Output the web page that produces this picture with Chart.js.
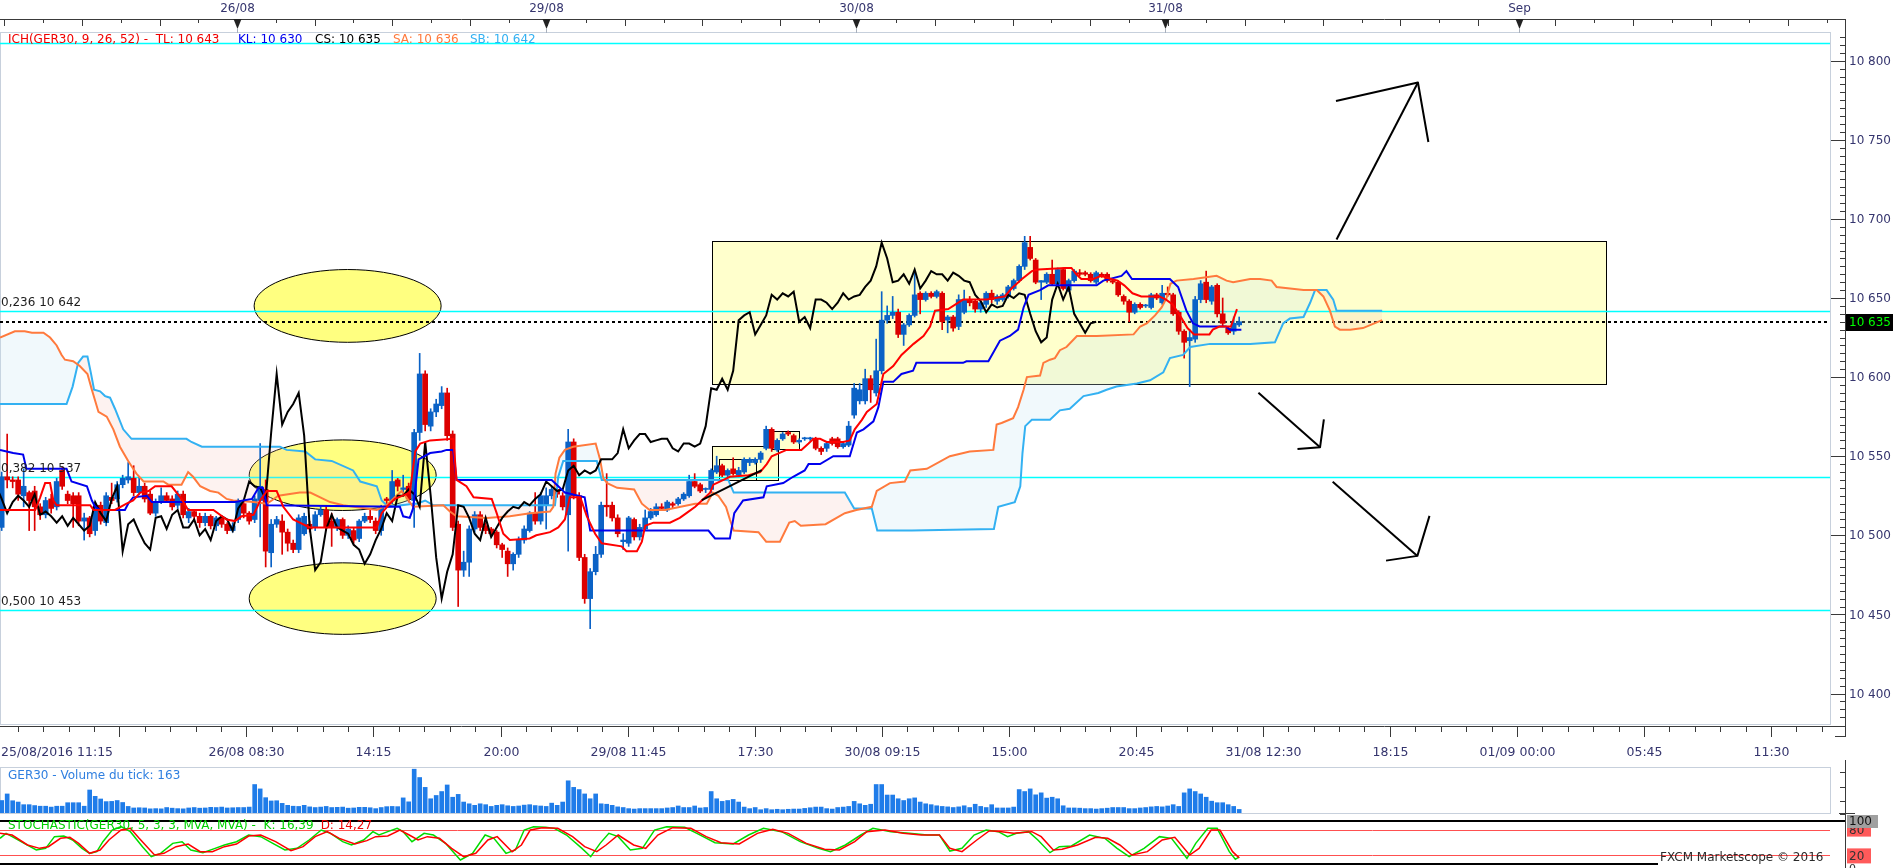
<!DOCTYPE html>
<html lang="fr">
<head>
<meta charset="UTF-8" />
<title>GER30 - Ichimoku 15 min</title>
<script src="https://cdn.jsdelivr.net/npm/chart.js@4.4.1/dist/chart.umd.min.js"></script>
<style>
  html, body { margin: 0; padding: 0; background: #fff; overflow: hidden; }
  #page { position: relative; width: 1903px; height: 868px; }
  #page canvas { position: absolute; left: 0; }
</style>
</head>
<body>
<div id="page">
  <canvas id="prix" width="1903" height="770" style="top:0px"></canvas>
  <canvas id="volume" width="1903" height="56" style="top:760px"></canvas>
  <canvas id="stoch" width="1903" height="53" style="top:815px"></canvas>
</div>
<script>
// bougies 15 min, indice 0 = 25/08/2016 11:15
const opens = [
  10505,10537,10535,10535,10525,10527,10528,10518,10513,10523,
  10518,10541,10526,10525,10525,10509,10511,10503,10519,10508,
  10524,10523,10532,10535,10536,10527,10531,10526,10514,10521,
  10525,10523,10519,10526,10511,10515,10512,10508,10512,10506,
  10511,10507,10503,10510,10520,10514,10510,10522,10529,10489,
  10507,10509,10502,10495,10491,10501,10507,10505,10513,10516,
  10509,10505,10510,10500,10503,10498,10509,10512,10509,10503,
  10523,10522,10535,10529,10531,10522,10565,10602,10569,10578,
  10582,10590,10564,10507,10478,10483,10504,10513,10506,10504,
  10502,10494,10490,10482,10488,10497,10503,10514,10509,10519,
  10525,10529,10525,10513,10559,10525,10486,10460,10477,10488,
  10519,10519,10511,10496,10495,10510,10499,10504,10511,10513,
  10518,10516,10520,10520,10523,10525,10534,10532,10529,10529,
  10540,10544,10538,10542,10538,10540,10546,10546,10548,10555,
  10567,10554,10561,10565,10563,10559,10561,10561,10561,10555,
  10555,10561,10561,10556,10557,10576,10585,10585,10599,10590,
  10604,10636,10639,10641,10627,10633,10639,10653,10649,10653,
  10651,10653,10636,10638,10632,10641,10649,10648,10643,10646,
  10653,10648,10649,10651,10656,10661,10670,10682,10674,10660,
  10660,10665,10659,10668,10655,10661,10666,10666,10665,10660,
  10665,10665,10661,10660,10651,10648,10641,10646,10645,10644,
  10652,10647,10653,10652,10641,10629,10623,10624,10649,10660,
  10648,10658,10640,10631,10629,10633
];
const highs = [
  10540,10564,10537,10537,10542,10528,10531,10520,10524,10526,
  10536,10543,10528,10527,10527,10514,10512,10520,10521,10527,
  10533,10534,10538,10546,10544,10537,10533,10528,10523,10530,
  10527,10525,10528,10528,10517,10516,10514,10514,10513,10512,
  10512,10508,10508,10523,10521,10515,10525,10558,10535,10510,
  10512,10513,10504,10497,10513,10514,10509,10515,10518,10518,
  10514,10511,10511,10506,10505,10510,10514,10516,10511,10519,
  10524,10541,10536,10538,10533,10567,10615,10604,10580,10586,
  10594,10593,10566,10509,10490,10506,10515,10515,10508,10505,
  10503,10495,10492,10489,10499,10506,10515,10527,10527,10530,
  10531,10530,10527,10567,10561,10527,10488,10479,10493,10521,
  10539,10521,10513,10501,10512,10511,10507,10516,10517,10520,
  10520,10522,10521,10524,10527,10538,10539,10533,10530,10542,
  10550,10545,10542,10549,10543,10549,10549,10549,10553,10569,
  10568,10561,10565,10566,10564,10561,10562,10562,10562,10556,
  10559,10562,10562,10559,10572,10596,10596,10605,10601,10624,
  10654,10645,10651,10643,10634,10640,10666,10654,10654,10654,
  10655,10654,10639,10639,10652,10655,10651,10649,10648,10654,
  10655,10652,10653,10658,10662,10671,10689,10689,10675,10661,
  10666,10674,10669,10669,10662,10668,10668,10667,10666,10667,
  10666,10666,10662,10661,10652,10649,10647,10647,10646,10653,
  10653,10658,10657,10653,10642,10630,10630,10651,10661,10667,
  10658,10659,10650,10632,10638,10638
];
const lows = [
  10503,10530,10530,10522,10518,10503,10503,10510,10511,10514,
  10516,10529,10520,10505,10506,10497,10499,10500,10507,10506,
  10520,10521,10530,10533,10525,10526,10521,10513,10512,10520,
  10521,10516,10517,10511,10508,10509,10505,10506,10504,10503,
  10505,10501,10502,10508,10511,10507,10508,10499,10480,10480,
  10505,10488,10490,10489,10489,10500,10502,10503,10512,10503,
  10493,10503,10498,10498,10495,10496,10508,10508,10501,10500,
  10520,10520,10528,10526,10521,10505,10560,10566,10566,10575,
  10580,10560,10503,10455,10474,10474,10502,10503,10501,10499,
  10492,10486,10474,10478,10486,10495,10502,10507,10507,10504,
  10523,10524,10516,10490,10523,10484,10457,10441,10475,10486,
  10512,10509,10499,10491,10493,10497,10497,10503,10510,10512,
  10516,10515,10517,10519,10522,10524,10530,10527,10527,10527,
  10539,10537,10537,10538,10537,10539,10544,10545,10546,10554,
  10553,10553,10560,10563,10558,10558,10560,10560,10554,10551,
  10553,10557,10555,10555,10556,10574,10583,10583,10584,10588,
  10602,10634,10637,10625,10620,10632,10638,10640,10648,10650,
  10650,10630,10628,10629,10630,10640,10645,10641,10641,10644,
  10647,10646,10648,10650,10655,10660,10668,10674,10659,10649,
  10659,10658,10658,10655,10654,10660,10664,10664,10660,10659,
  10663,10660,10659,10651,10646,10635,10640,10643,10644,10643,
  10649,10646,10651,10639,10627,10612,10594,10622,10647,10647,
  10646,10638,10632,10627,10627,10632
];
const closes = [
  10537,10535,10534,10526,10531,10522,10518,10513,10522,10517,
  10534,10531,10522,10520,10509,10511,10501,10518,10509,10525,
  10522,10532,10536,10537,10527,10531,10523,10514,10521,10525,
  10522,10518,10526,10513,10515,10512,10508,10512,10506,10511,
  10507,10503,10506,10521,10514,10509,10523,10531,10490,10507,
  10510,10502,10495,10491,10511,10512,10504,10513,10516,10505,
  10505,10510,10500,10504,10497,10509,10512,10510,10503,10517,
  10522,10534,10531,10530,10523,10565,10602,10570,10578,10583,
  10590,10563,10505,10478,10483,10504,10513,10505,10503,10501,
  10494,10491,10482,10488,10497,10504,10514,10509,10525,10525,
  10529,10526,10518,10559,10525,10486,10460,10477,10488,10519,
  10518,10511,10501,10497,10511,10499,10505,10511,10515,10518,
  10517,10521,10519,10523,10526,10534,10531,10528,10529,10541,
  10544,10538,10541,10539,10541,10548,10548,10548,10552,10567,
  10555,10560,10564,10564,10559,10560,10561,10561,10555,10553,
  10558,10558,10556,10558,10569,10593,10592,10599,10592,10604,
  10636,10639,10641,10627,10633,10639,10652,10649,10653,10651,
  10654,10635,10638,10631,10649,10649,10647,10643,10647,10653,
  10649,10651,10652,10657,10661,10670,10685,10675,10660,10661,
  10665,10659,10668,10656,10661,10667,10665,10665,10661,10666,
  10664,10661,10660,10652,10648,10641,10646,10644,10645,10652,
  10650,10653,10652,10640,10629,10622,10625,10649,10659,10649,
  10657,10640,10634,10628,10634,10635
];
const volumes = [
  570,870,560,500,380,380,340,310,310,270,
  310,310,470,470,470,310,1050,760,640,520,
  530,570,480,300,230,240,230,190,200,190,
  250,220,200,190,230,250,220,230,260,250,
  270,230,240,250,250,270,1300,1100,700,550,
  560,440,350,310,300,350,280,250,270,300,
  250,260,270,220,230,260,260,240,200,250,
  290,300,290,690,510,2000,1620,1170,650,800,
  980,1280,720,850,500,420,350,420,380,300,
  350,380,330,300,320,360,380,340,320,300,
  450,350,500,1470,1170,1070,870,650,870,420,
  400,350,280,250,200,180,200,200,200,200,
  200,230,250,320,250,250,320,230,250,980,
  650,530,570,620,500,270,200,250,150,200,
  150,170,150,170,180,180,210,240,270,270,
  200,180,250,270,300,530,420,350,400,1300,
  1300,820,820,650,570,650,690,500,420,380,
  330,300,280,250,280,330,250,400,300,250,
  380,230,230,230,270,1070,980,1100,830,920,
  680,720,650,330,230,230,220,200,200,180,
  200,220,250,250,250,200,200,230,250,280,
  300,280,320,380,300,920,1100,980,870,720,
  540,470,470,380,300,163
];
// lignes Ichimoku : [indice de barre, prix]
const tenkan = [[-0.3,10516],[6.1,10516],[7,10524],[7.9,10533],[8.8,10533],[9.4,10522],[10,10519],[16.1,10519],[16.7,10516],[20.6,10516],[22.7,10520],[23.9,10522],[25.2,10527],[26.7,10528],[27.9,10531],[30.9,10531],[32.7,10523],[33.9,10516],[38.5,10516],[40.9,10510],[42.4,10509],[43.6,10512],[45.8,10513],[47,10522],[48.2,10528],[50,10528],[51.2,10518],[53,10510],[56,10505],[68.2,10505],[69.1,10514],[70.3,10519],[71.5,10523],[74.2,10527],[75.2,10553],[76.1,10558],[77.9,10560],[82.1,10561],[82.7,10535],[84.5,10531],[85.8,10524],[89.1,10523],[90,10514],[91.2,10501],[92.4,10497],[96,10498],[97.2,10500],[99.7,10502],[101.2,10505],[102.4,10510],[103.3,10524],[105.2,10524],[106.4,10512],[107.9,10501],[109.1,10495],[112.7,10493],[113.6,10490],[115.5,10490],[116.4,10496],[117,10506],[118.5,10508],[121.5,10508],[123.3,10511],[124.5,10514],[126.1,10518],[127.6,10523],[128.8,10527],[129.4,10532],[132.4,10537],[135.8,10538],[137.9,10540],[139.1,10545],[140,10550],[142.7,10554],[145.4,10554],[146.7,10558],[147.6,10561],[148.8,10561],[150,10559],[153,10559],[154.2,10560],[155.1,10567],[156.4,10573],[157.3,10578],[159.1,10583],[160.3,10602],[162.1,10607],[163.6,10614],[165.8,10621],[167.6,10626],[168.8,10632],[169.7,10642],[172.1,10643],[174.8,10649],[179.1,10649],[182.4,10651],[183.6,10656],[185.5,10662],[187.3,10667],[188.5,10668],[193.3,10669],[194.5,10669],[195.4,10665],[196.3,10662],[198.5,10662],[199.9,10664],[201.7,10662],[202.9,10661],[204.1,10658],[205.6,10653],[207.2,10651],[210.5,10651],[211.7,10649],[212.9,10646],[214.4,10638],[215.6,10631],[216.8,10627],[219.6,10627],[220.2,10630],[221.4,10632],[223.5,10632],[224.1,10638],[224.6,10643]];
const kijun = [[-0.3,10554],[2.1,10552],[3.9,10551],[4.5,10542],[11.8,10542],[12.7,10534],[15.5,10531],[16.4,10522],[17,10518],[17.9,10516],[22.4,10516],[23,10520],[23.9,10524],[26.4,10525],[27.3,10521],[42.4,10521],[45.5,10523],[46.7,10530],[47.5,10530],[48.2,10519],[72.4,10518],[73,10512],[74.2,10511],[74.8,10517],[75.8,10548],[77.9,10552],[80,10553],[80.9,10554],[82.1,10554],[82.7,10535],[100,10535],[101.2,10531],[102.4,10527],[106,10524],[107,10503],[128.5,10503],[129.7,10498],[132.4,10498],[133.2,10514],[134.8,10522],[138.5,10524],[139.1,10531],[142.1,10533],[143.9,10537],[146,10541],[146.7,10545],[148.8,10545],[151.2,10550],[154.2,10550],[155.5,10565],[156.7,10567],[158.5,10572],[159.4,10581],[160.3,10597],[162.1,10597],[163.6,10602],[165.7,10604],[166.3,10609],[174.8,10609],[175.4,10610],[179.4,10610],[181.5,10623],[183.3,10626],[184.8,10630],[185.8,10644],[186.7,10652],[188.8,10655],[190.3,10658],[199.1,10658],[200.3,10661],[203.6,10664],[204.5,10667],[205.5,10662],[212.4,10662],[213.9,10657],[215.4,10642],[216.6,10634],[217.8,10632],[222.6,10632],[223.3,10630],[225.4,10630]];
const senkouA = [[-0.3,10625],[2.4,10629],[4.2,10629],[5.5,10628],[7.6,10628],[8.8,10625],[10,10620],[10.9,10614],[11.5,10611],[13,10610],[14.2,10607],[15.6,10602],[16.4,10592],[17.6,10578],[19.1,10575],[20.3,10567],[21.5,10556],[23,10547],[24.5,10539],[25.8,10534],[29.4,10534],[30.3,10532],[32.7,10532],[33.9,10540],[34.8,10537],[36.1,10531],[37.9,10528],[39.4,10527],[40.9,10523],[42.1,10522],[45.8,10521],[48.2,10520],[49.1,10522],[50.3,10525],[54.2,10527],[56.1,10527],[59.7,10521],[62.1,10519],[68.2,10516],[70,10519],[71.5,10524],[72.7,10528],[73.6,10524],[74.8,10518],[80.3,10519],[81.5,10515],[82.7,10512],[88.2,10511],[92.4,10512],[96.1,10514],[99.7,10515],[100.3,10518],[100.7,10539],[101.4,10549],[102.4,10554],[103.9,10556],[108,10558],[108.8,10548],[109.4,10536],[110.1,10533],[111.9,10530],[115,10529],[116.4,10520],[117.8,10516],[120.6,10516],[126.1,10520],[128.2,10520],[129.3,10527],[130.3,10525],[131.7,10518],[132.4,10510],[133.1,10503],[137.6,10502],[139,10496],[141.5,10496],[143.2,10508],[144.2,10509],[145.3,10506],[149.8,10507],[153.3,10514],[155.4,10516],[158.2,10518],[159.1,10528],[161.5,10533],[164.2,10534],[165.2,10541],[168.2,10542],[172.4,10550],[176,10553],[180.3,10554],[180.9,10570],[181.8,10571],[183.9,10574],[184.8,10581],[185.8,10592],[186.4,10600],[188.8,10601],[189.4,10609],[190.6,10611],[191.5,10612],[192.4,10617],[193.6,10619],[195.5,10626],[199.1,10626],[205.8,10627],[207,10632],[208.2,10634],[209.7,10639],[210.9,10644],[211.8,10650],[212.5,10659],[213.6,10661],[216.7,10662],[220.9,10664],[222.7,10661],[223.9,10660],[227,10662],[228.8,10662],[230.9,10661],[231.8,10657],[236.7,10655],[239.1,10655],[240.3,10651],[241.5,10642],[242.4,10632],[243.3,10630],[245.2,10630],[247.5,10631],[251,10636]];
const senkouB = [[-0.3,10583],[11.8,10583],[12.9,10594],[13.9,10609],[14.8,10613],[15.6,10613],[16.2,10603],[16.8,10592],[17.9,10591],[18.8,10588],[19.7,10587],[20.6,10580],[22.1,10567],[23.6,10561],[33.6,10561],[34.5,10559],[36.4,10556],[50.6,10556],[51.8,10554],[55.2,10553],[57,10548],[60,10547],[63.9,10541],[65.2,10534],[68.2,10531],[69.1,10522],[70.3,10518],[74.9,10520],[75.5,10520],[77,10522],[78.5,10519],[100.6,10519],[101.2,10537],[102.1,10547],[108.2,10547],[109.1,10535],[132.1,10535],[133.1,10527],[153.3,10527],[155,10517],[158.2,10517],[159.2,10503],[165.5,10503],[180.4,10504],[181.2,10518],[184.2,10521],[185.2,10531],[185.6,10552],[186.1,10569],[187.3,10573],[190.6,10573],[192.4,10579],[194.2,10580],[196.7,10588],[199.4,10590],[200.9,10592],[202.7,10594],[206.4,10596],[208.8,10598],[211.2,10603],[212.4,10612],[214.8,10614],[216.1,10619],[219.7,10621],[227,10621],[231.5,10622],[233,10634],[234.2,10637],[236.7,10638],[237.9,10647],[238.8,10655],[240.9,10655],[242.1,10649],[242.7,10642],[245.2,10642],[251,10642]];
// stochastique (5,3,3) : [indice de barre, valeur]
const stochK = [[-0.3,59.7],[0.8,71.3],[1.9,63.6],[4.1,48],[6.3,32.6],[8,36.4],[9.6,63.6],[11.3,65.1],[12.9,55.8],[14.6,36.4],[16,24.8],[17.3,28.7],[18.4,51.9],[20.1,79],[21.7,86.8],[23.4,75.2],[25.6,40.3],[27.2,17],[28.9,24.8],[31.1,48],[32.8,51.9],[34.4,32.6],[36.6,26.4],[38.8,36.4],[40.5,44.2],[42.7,51.9],[44.9,67.4],[47.1,63.6],[49.3,48],[51.5,32.6],[53.7,36.4],[55.9,55.8],[58.1,79],[59.8,71.3],[62,51.9],[63.6,44.2],[65.8,55.8],[67.5,75.2],[68.6,67.4],[70.2,75.2],[71.9,82.9],[73,75.2],[74.6,51.9],[76.8,71.3],[78.5,67.4],[80.7,48],[83.4,9.3],[85.6,24.8],[87.9,67.4],[89.5,59.7],[91.7,24.8],[93.4,32.6],[95,79],[96.7,86.8],[98.9,85.3],[100.5,82.9],[102.7,67.4],[105.5,36.4],[107.1,17],[108.8,48],[110.4,71.3],[112.1,63.6],[114.3,32.6],[116.5,36.4],[118.7,79],[120.9,86.8],[124.2,85.3],[126.4,71.3],[129.7,49.6],[133,46.5],[135.8,67.4],[138.5,82.9],[141.8,75.2],[145.2,51.9],[148.5,36.4],[150.7,28.7],[153.4,44.2],[156.2,67.4],[158.4,82.9],[161.7,75.2],[165,71.3],[168.3,67.4],[170.5,67.4],[172.4,30],[174.6,36.4],[176.8,67.4],[179,79],[181.2,75.2],[182.9,63.6],[184.5,71.3],[186.7,75.2],[188.4,55.8],[190.6,26.4],[192.3,40.3],[194.5,41.9],[197.8,67.4],[200.6,59.7],[202.8,36.4],[205,17],[207.7,36.4],[210.5,63.6],[212.7,59.7],[215.5,13.2],[217.1,48],[219.3,82.9],[221,82.9],[223.2,28.7],[224.3,10.9],[225,16.4]];
const stochD = [[-0.3,71.3],[1.9,67.4],[4.7,44.2],[6.9,36.4],[8.5,40.3],[10.7,59.7],[12.4,62],[14,48],[16,24.8],[17.9,32.6],[19.5,55.8],[21.7,79],[23.4,82.9],[25,59.7],[27.8,20.9],[29.5,24.8],[31.7,40.3],[33.9,46.5],[36.1,28.7],[38.3,28.7],[40.5,40.3],[42.7,46.5],[44.9,65.1],[47.1,67.4],[49.8,51.9],[52.6,31],[54.8,40.3],[57,63.6],[59.2,75.2],[61.4,59.7],[64.2,46.5],[66.4,54.3],[68,63.6],[70.2,65.1],[72.4,79],[74.1,67.4],[75.7,55.8],[77.4,63.6],[79.6,59.7],[81.8,36.4],[84,17],[86.2,24.8],[88.4,55.8],[90.1,63.6],[92.8,28.7],[94.5,44.2],[96.1,79],[98.3,84.5],[101.1,82.9],[103.8,63.6],[106,40.3],[108.2,28.7],[109.9,44.2],[112.1,67.4],[114.9,44.2],[117.1,36.4],[119.3,67.4],[122,84.5],[125.3,82.9],[128.1,63.6],[130.8,49.6],[134.1,46.5],[137.4,71.3],[140.2,80.6],[143,71.3],[146.3,48],[149.6,34.1],[152.3,32.6],[155.1,51.9],[157.3,75.2],[160.6,79],[163.9,71.3],[167.2,67.4],[170.5,67.4],[172.4,36.4],[174.6,28.7],[177.3,55.8],[179.6,77.5],[181.8,75.2],[184,71.3],[187.3,75.2],[189,63.6],[191.2,32.6],[192.8,34.1],[195.6,44.2],[198.9,62],[201.1,59.7],[203.3,44.2],[205.5,20.9],[208.3,28.7],[211,55.8],[213.3,62],[216,20.9],[217.7,36.4],[219.9,79],[221.5,79],[223.8,28.7],[225,14.3]];
const timeLabels = ['25/08/2016 11:15','','26/08 08:30','14:15','20:00','29/08 11:45','17:30','30/08 09:15','15:00','20:45','31/08 12:30','18:15','01/09 00:00','05:45','11:30'];
const timeTicks = [-1.7,21.4,44.5,67.6,90.7,113.8,136.9,160,183.1,206.2,229.3,252.4,275.5,298.6,321.7];
const dateLabels = ['26/08','29/08','30/08','31/08','Sep'];
const dateTicks = [42.8,99,155.3,211.5,275.9];
const priceTicks = [10400,10450,10500,10550,10600,10650,10700,10750,10800];
const fibLevels = [10811,10642,10537,10453];
const fibNames = ['','0,236 10 642','0,382 10 537','0,500 10 453'];
const lastClose = 10635;
const legendParts = [['ICH(GER30, 9, 26, 52) -  TL: 10 643','#f00000'],['KL: 10 630','#0000ee'],['CS: 10 635','#000000'],['SA: 10 636','#ff7a3d'],['SB: 10 642','#33b1f2']];

// dessins à la main (coordonnées barre / prix)
const zones = [[129.2,291.7,10686,10595.6,true],[129.2,141.1,10556.3,10534.8,true],[130.4,137.2,10548,10534.8,false],[140,145,10565.9,10554.4,true]];
const ellipses = [[62.9,10645,17,23],[62,10538,17,22.3],[62,10460,17,22.6]];
const strokes = [
  [[127.3,10522.3],[138.2,10541.2]],
  [[242.7,10687],[257.5,10786.2]], [[242.6,10774.5],[257.5,10786.2],[259.4,10748.6]],
  [[228.5,10590.1],[239.7,10555.6]], [[235.6,10554.5],[239.7,10555.6],[240.4,10573.3]],
  [[242,10533.8],[257.4,10487]], [[251.7,10484],[257.4,10487],[259.6,10512.3]]
];

const FONT = '"DejaVu Sans", Verdana, sans-serif';
const AXIS_TXT = '#35356e';
const BLUE_C = '#0b62c6', RED_C = '#dc0000';
const xScale = { type: 'linear', min: -0.3036, max: 332.42, display: false, offset: false };
Chart.defaults.font.family = FONT;

const pts = a => a.map(p => ({ x: p[0], y: p[1] }));
const candleColors = closes.map((c, i) => c >= opens[i] ? BLUE_C : RED_C);
const chikou = closes.map((c, i) => ({ x: i - 26, y: c }));

function txt(ctx, s, x, y, color, size, align, base) {
  ctx.font = size + 'px ' + FONT;
  ctx.fillStyle = color;
  ctx.textAlign = align || 'left';
  ctx.textBaseline = base || 'middle';
  ctx.fillText(s, x, y);
}
function seg(ctx, x0, y0, x1, y1) {
  ctx.beginPath(); ctx.moveTo(x0, y0); ctx.lineTo(x1, y1); ctx.stroke();
}

const prixDecor = {
  id: 'prixDecor',
  beforeDraw(chart) {
    const ctx = chart.ctx, X = v => chart.scales.x.getPixelForValue(v), Y = v => chart.scales.y.getPixelForValue(v);
    ctx.save();
    ctx.strokeStyle = '#c7d0dc'; ctx.lineWidth = 1;
    ctx.strokeRect(0.5, 32.5, 1830, 692);
    zones.forEach(z => {
      const x0 = Math.round(X(z[0])) + 0.5, x1 = Math.round(X(z[1])) + 0.5;
      const y0 = Math.round(Y(z[2])) + 0.5, y1 = Math.round(Y(z[3])) + 0.5;
      if (z[4]) { ctx.fillStyle = '#ffffcc'; ctx.fillRect(x0, y0, x1 - x0, y1 - y0); }
      ctx.strokeStyle = '#000'; ctx.strokeRect(x0, y0, x1 - x0, y1 - y0);
    });
    ellipses.forEach(e => {
      const cx = X(e[0]), cy = Y(e[1]);
      ctx.beginPath();
      ctx.ellipse(cx, cy, X(e[0] + e[2]) - cx, Y(e[1] - e[3]) - cy, 0, 0, Math.PI * 2);
      ctx.fillStyle = '#ffff80'; ctx.fill();
      ctx.strokeStyle = '#000'; ctx.lineWidth = 1; ctx.stroke();
    });
    ctx.strokeStyle = '#00ffff'; ctx.lineWidth = 1.5;
    fibLevels.forEach(f => { const y = Math.round(Y(f)) + 0.5; seg(ctx, 0, y, 1830, y); });
    ctx.setLineDash([3, 3]); ctx.strokeStyle = '#000'; ctx.lineWidth = 2;
    const yc = Math.round(Y(lastClose)); seg(ctx, 0, yc, 1830, yc);
    ctx.restore();
  },
  afterDatasetsDraw(chart) {
    const ctx = chart.ctx, X = v => chart.scales.x.getPixelForValue(v), Y = v => chart.scales.y.getPixelForValue(v);
    ctx.save();
    ctx.strokeStyle = '#000'; ctx.lineWidth = 2; ctx.lineJoin = 'round';
    strokes.forEach(s => {
      ctx.beginPath();
      s.forEach((p, i) => i ? ctx.lineTo(X(p[0]), Y(p[1])) : ctx.moveTo(X(p[0]), Y(p[1])));
      ctx.stroke();
    });
    ctx.restore();
  },
  afterDraw(chart) {
    const ctx = chart.ctx, X = v => chart.scales.x.getPixelForValue(v), Y = v => chart.scales.y.getPixelForValue(v);
    ctx.save();
    // textes Fibonacci
    fibLevels.forEach((f, i) => { if (fibNames[i]) txt(ctx, fibNames[i], 1, Y(f) - 8, '#1e1e1e', 12); });
    // légende Ichimoku
    const lx = [8, 238, 315, 393, 470];
    legendParts.forEach((p, i) => txt(ctx, p[0], lx[i], 40, p[1], 12));
    // axe du haut
    ctx.strokeStyle = '#3a3a3a'; ctx.lineWidth = 1;
    seg(ctx, 0, 19.5, 1846, 19.5);
    for (let k = 0; 0.5 + 7.05 * k < 332; k++) {
      const x = Math.round(X(0.5 + 7.05 * k)) + 0.5;
      seg(ctx, x, 19, x, k % 2 ? 23 : 26);
    }
    dateTicks.forEach((b, i) => {
      const x = Math.round(X(b)) + 0.5;
      ctx.fillStyle = '#222';
      ctx.beginPath(); ctx.moveTo(x - 4, 19); ctx.lineTo(x + 4, 19); ctx.lineTo(x, 29); ctx.closePath(); ctx.fill();
      ctx.strokeStyle = '#a8b0bc'; seg(ctx, x, 29, x, 33);
      txt(ctx, dateLabels[i], x, 9, AXIS_TXT, 12, 'center');
    });
    // axe des prix
    ctx.strokeStyle = '#3a3a3a';
    seg(ctx, 1845.5, 19, 1845.5, 737);
    seg(ctx, 1835, 736.5, 1846, 736.5);
    for (let p = 10385; p <= 10815; p += 5) {
      const y = Math.round(Y(p)) + 0.5;
      seg(ctx, p % 50 === 0 ? 1831 : 1840, y, 1845, y);
    }
    priceTicks.forEach(p => txt(ctx, String(p).slice(0, 2) + ' ' + String(p).slice(2), 1849, Y(p) + 1, AXIS_TXT, 12));
    ctx.fillStyle = '#000'; ctx.fillRect(1846, 314, 47, 17);
    txt(ctx, '10 635', 1849, Y(lastClose) + 1, '#00ff00', 12);
    // axe du temps
    ctx.strokeStyle = '#3a3a3a';
    seg(ctx, 0, 726.5, 1846, 726.5);
    timeTicks.forEach((b, i) => {
      const x = Math.round(X(b)) + 0.5;
      seg(ctx, x, 726, x, 737);
      for (let j = 1; j < 5; j++) {
        const xm = Math.round(X(b + 23.1 * j / 5)) + 0.5;
        if (xm > 0 && xm < 1845) seg(ctx, xm, 726, xm, 732);
      }
      if (!timeLabels[i]) return;
      if (i === 0) txt(ctx, timeLabels[i], 1, 753, AXIS_TXT, 12.5);
      else txt(ctx, timeLabels[i], x, 753, AXIS_TXT, 12.5, 'center');
    });
    ctx.restore();
  }
};

const line = (label, data, color, order, extra) => Object.assign({
  type: 'line', label, data, borderColor: color, borderWidth: 2, pointRadius: 0, tension: 0, order, fill: false
}, extra || {});

new Chart(document.getElementById('prix'), {
  data: {
    datasets: [
      line('Tenkan', pts(tenkan), '#ff0000', 1),
      line('Kijun', pts(kijun), '#0000ee', 2),
      line('Chikou', chikou, '#000000', 3),
      line('Senkou A', pts(senkouA), '#ff7a3d', 4, { fill: { target: 4, above: 'rgba(200,230,245,0.25)', below: 'rgba(245,190,180,0.2)' } }),
      line('Senkou B', pts(senkouB), '#33b1f2', 5),
      { type: 'bar', label: 'mèches', data: lows.map((l, i) => ({ x: i, y: [l, highs[i]] })), backgroundColor: candleColors, barThickness: 1, grouped: false, order: 8 },
      { type: 'bar', label: 'corps', data: opens.map((o, i) => ({ x: i, y: [o, closes[i]] })), backgroundColor: candleColors, barThickness: 5, minBarLength: 1, grouped: false, order: 7 }
    ]
  },
  options: {
    responsive: false, animation: false, events: [], devicePixelRatio: 1,
    layout: { padding: { left: 0, right: 73, top: 32, bottom: 45 } },
    plugins: { legend: { display: false }, tooltip: { enabled: false }, filler: { drawTime: 'beforeDatasetsDraw' } },
    scales: { x: xScale, y: { type: 'linear', min: 10380.1, max: 10818.14, display: false } }
  },
  plugins: [prixDecor]
});

const volDecor = {
  id: 'volDecor',
  beforeDraw(chart) {
    const ctx = chart.ctx;
    ctx.save(); ctx.strokeStyle = '#c7d0dc'; ctx.lineWidth = 1;
    ctx.strokeRect(0.5, 7.5, 1830, 46); ctx.restore();
  },
  afterDraw(chart) {
    const ctx = chart.ctx;
    ctx.save();
    txt(ctx, 'GER30 - Volume du tick: 163', 8, 16, '#2f7fe0', 12);
    ctx.strokeStyle = '#3a3a3a'; ctx.lineWidth = 1;
    seg(ctx, 1845.5, 0, 1845.5, 56);
    [12, 27, 41, 54].forEach(y => seg(ctx, 1840, y + 0.5, 1845, y + 0.5));
    seg(ctx, 1839, 53.5, 1855, 53.5);
    ctx.restore();
  }
};

new Chart(document.getElementById('volume'), {
  data: { datasets: [{ type: 'bar', label: 'Volume', data: volumes.map((v, i) => ({ x: i, y: v })), backgroundColor: '#1f7ce9', barThickness: 4, grouped: false }] },
  options: {
    responsive: false, animation: false, events: [], devicePixelRatio: 1,
    layout: { padding: { left: 0, right: 73, top: 7, bottom: 3 } },
    plugins: { legend: { display: false }, tooltip: { enabled: false } },
    scales: { x: xScale, y: { type: 'linear', min: 0, max: 2100, display: false } }
  },
  plugins: [volDecor]
});

const stochDecor = {
  id: 'stochDecor',
  beforeDraw(chart) {
    const ctx = chart.ctx, Y = v => chart.scales.y.getPixelForValue(v);
    ctx.save();
    ctx.strokeStyle = '#ff5050'; ctx.lineWidth = 1;
    [80, 20].forEach(v => { const y = Math.round(Y(v)) + 0.5; seg(ctx, 0, y, 1830, y); });
    ctx.strokeStyle = '#000'; ctx.lineWidth = 2;
    seg(ctx, 0, Math.round(Y(100)), 1845, Math.round(Y(100)));
    seg(ctx, 0, Math.round(Y(0)), 1658, Math.round(Y(0)));
    ctx.restore();
  },
  afterDraw(chart) {
    const ctx = chart.ctx, Y = v => chart.scales.y.getPixelForValue(v);
    ctx.save();
    const kTxt = 'STOCHASTIC(GER30, 5, 3, 3, MVA, MVA) -  K: 16,39';
    txt(ctx, kTxt, 8, 11, '#00d000', 12);
    const w = ctx.measureText(kTxt).width;
    txt(ctx, 'D: 14,27', 8 + w + 7, 11, '#f00000', 12);
    ctx.strokeStyle = '#3a3a3a'; ctx.lineWidth = 1;
    seg(ctx, 1845.5, 0, 1845.5, 53);
    ctx.fillStyle = '#ff5a5a'; ctx.fillRect(1847, Y(80) - 8, 24, 15); ctx.fillRect(1847, Y(20) - 7, 24, 15);
    txt(ctx, '80', 1849, Y(80) + 1, '#333', 12);
    txt(ctx, '20', 1849, Y(20) + 1, '#333', 12);
    ctx.fillStyle = '#a0a0a0'; ctx.fillRect(1847, Y(100) - 7, 31, 14);
    txt(ctx, '100', 1849, Y(100) + 1, '#111', 12);
    txt(ctx, '0', 1849, Y(0) + 5, '#333', 11);
    txt(ctx, 'FXCM Marketscope © 2016', 1660, Y(0) - 6, '#2a2a2a', 12);
    ctx.restore();
  }
};

new Chart(document.getElementById('stoch'), {
  data: {
    datasets: [
      { type: 'line', label: 'D', data: pts(stochD), borderColor: '#ff0000', borderWidth: 1.5, pointRadius: 0, order: 1 },
      { type: 'line', label: 'K', data: pts(stochK), borderColor: '#00dc00', borderWidth: 1.5, pointRadius: 0, order: 2 }
    ]
  },
  options: {
    responsive: false, animation: false, events: [], devicePixelRatio: 1,
    layout: { padding: { left: 0, right: 73, top: 6, bottom: 4 } },
    plugins: { legend: { display: false }, tooltip: { enabled: false } },
    scales: { x: xScale, y: { type: 'linear', min: 0, max: 100, display: false } }
  },
  plugins: [stochDecor]
});
</script>
</body>
</html>
